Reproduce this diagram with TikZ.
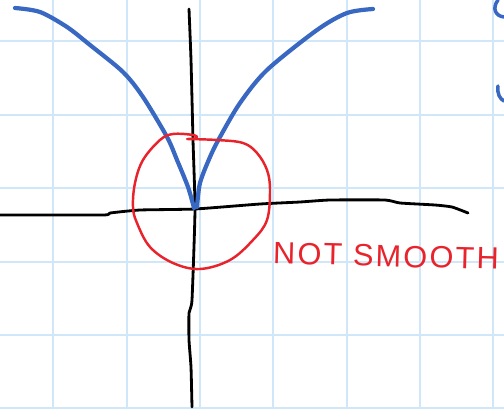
\documentclass[tikz,border=0pt]{standalone}
\usepackage{fontspec}
\newfontfamily\rotulo[LetterSpace=7]{Liberation Sans}
\definecolor{papel}{HTML}{CFE7F9}
\definecolor{curva}{HTML}{3868C2}
\definecolor{marca}{HTML}{E8232B}
\begin{document}
\begin{tikzpicture}[x=0.02cm,y=-0.02cm,line cap=round,line join=round,
    cuadricula/.style={draw=papel,line width=1.1pt},
    eje/.style={draw=black,line width=1.6pt},
    rama/.style={draw=curva,line width=2.4pt},
    every node/.style={font=\rotulo\fontsize{17.5}{17.5}\selectfont}]
    \useasboundingbox (0,0) rectangle (504,409);
    % Papel cuadriculado de fondo.
    \foreach \xx in {53,127,200,273,347,420,493} {
        \draw[cuadricula] (\xx,0) -- (\xx,409);
    }
    \foreach \yy in {41,115,188,262,335,408} {
        \draw[cuadricula] (0,\yy) -- (504,\yy);
    }
    % Ejes trazados a mano.
    \draw[eje] plot[smooth,tension=.3] coordinates {(0,215) (103,215) (110,213) (140,210)
        (195,209) (260,204) (300,202) (330,200) (385,200) (400,203) (435,205) (452,207) (468,213)};
    \draw[eje] plot[smooth,tension=.3] coordinates {(189,9) (191,60) (193,140) (195,210)
        (192,300) (189,313) (189,340) (191,367) (192,407)};
    % Las dos ramas de la curva con la punta en el origen.
    \draw[rama] plot[smooth] coordinates {(15,8) (40,12) (67,27) (90,45) (123,72) (143,97)
        (167,137) (177,160) (188,187) (194,208)};
    \draw[rama] plot[smooth] coordinates {(373,9) (347,13) (317,30) (267,70) (240,103)
        (220,137) (210,157) (200,183) (197,207)};
    \draw[curva,line width=2pt] (498,0) .. controls (492,8) and (495,16) .. (504,17);
    \draw[curva,line width=2pt] (498,86) .. controls (497,94) and (500,99) .. (504,101);
    % Circulo rojo alrededor de la punta.
    \draw[marca,line width=1.4pt] plot[smooth,tension=.6] coordinates {(187,139) (217,140)
        (243,143) (257,153) (267,170) (270,190) (267,220) (253,240) (230,260) (200,269)
        (173,263) (150,247) (137,223) (133,207) (135,183) (143,160) (160,140) (173,134)
        (193,135) (197,138) (188,139)};
    \node[marca,inner sep=0pt,rotate=-1.5] (nosuave) at (386,256) {NOT SMOOTH};
\end{tikzpicture}
\end{document}
